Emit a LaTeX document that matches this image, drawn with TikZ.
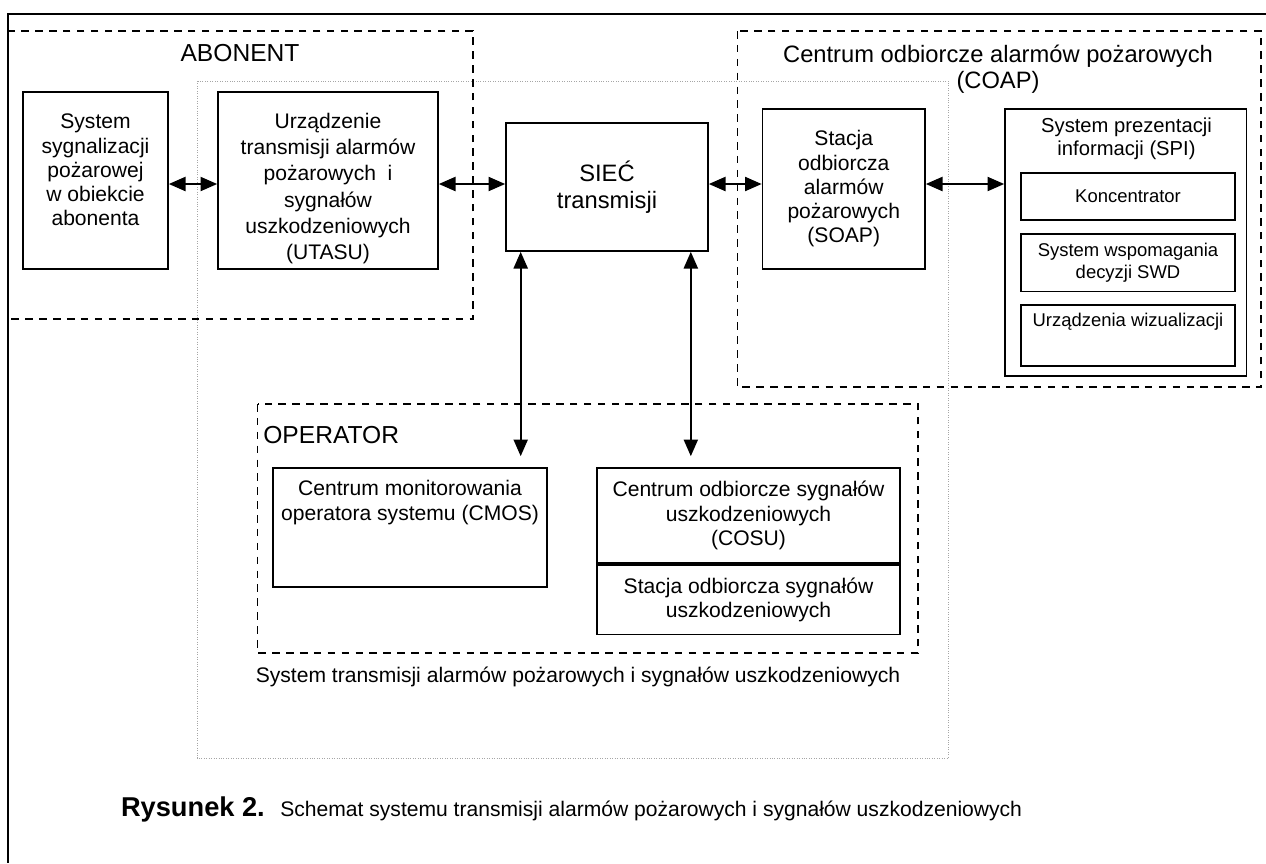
\documentclass[tikz,border=0pt]{standalone}
\usepackage{fontspec}
\setmainfont{Liberation Sans}
\usetikzlibrary{arrows.meta}
\usetikzlibrary{positioning}

\tikzset{
  blok/.style={draw, line width=0.95pt, inner sep=0pt, align=center, font=\fontsize{12}{13.8}\selectfont},
  opis/.style={align=center, inner sep=0pt, font=\fontsize{12}{13.8}\selectfont},
  maly/.style={font=\fontsize{10.5}{12.5}\selectfont},
  tytul/.style={font=\fontsize{14}{15}\selectfont},
  grupa/.style={draw, line width=0.9pt, dash pattern=on 4.3pt off 3.6pt},
  strzalka/.style={line width=1.15pt, {Triangle[length=9.5pt,width=8pt]}-{Triangle[length=9.5pt,width=8pt]}},
}

\begin{document}
\begin{tikzpicture}[x=0.02cm, y=-0.02cm]
\useasboundingbox (0,0) rectangle (1266,863);
% ramka rysunku
\draw[line width=1.1pt] (1266,14) -- (8,14) -- (8,863);

% obszary
\draw[gray!70, line width=0.4pt, densely dotted] (197,81) rectangle (948.5,758);
\draw[grupa] (8,31) rectangle (473,319);
\draw[grupa] (737.5,31) rectangle (1261,387);
\draw[grupa] (257.5,404) rectangle (918,653);

\node[opis, tytul] (abonent) at (240,53) {ABONENT};
\node[opis, tytul, font=\fontsize{13.5}{14.7}\selectfont] (coap) at (998,69) {Centrum odbiorcze alarmów pożarowych\\(COAP)};
\node[opis, tytul, anchor=west] (operator) at (263,435) {OPERATOR};

% abonent
\node[blok, minimum width=2.9cm, minimum height=3.54cm] (ssp) at (95.5,180.5) {};
\node[opis] (ssp-t) at (95.5,170) {System\\sygnalizacji\\pożarowej\\w obiekcie\\abonenta};
\node[blok, minimum width=4.4cm, minimum height=3.54cm] (utasu) at (328,180.5) {};
\node[opis, font=\fontsize{12}{15}\selectfont] (utasu-t) at (328,188.5) {Urządzenie\\transmisji alarmów\\pożarowych~ i\\sygnałów\\uszkodzeniowych\\(UTASU)};

% siec
\node[blok, minimum width=4.04cm, minimum height=2.56cm, font=\fontsize{13.5}{15.3}\selectfont] (siec) at (607,187) {SIEĆ\\transmisji};

% coap
\node[blok, minimum width=3.25cm, minimum height=3.2cm] (soap) at (843.75,189) {Stacja\\odbiorcza\\alarmów\\pożarowych\\(SOAP)};
\node[blok, minimum width=4.83cm, minimum height=5.34cm] (spi) at (1125.75,242.5) {};
\node[opis, font=\fontsize{11.5}{13}\selectfont] (spi-t) at (1126.5,138.5) {System prezentacji\\informacji (SPI)};
\node[blok, maly, minimum width=4.28cm, minimum height=0.94cm] (konc) at (1128,196.5) {Koncentrator};
\node[blok, maly, minimum width=4.28cm, minimum height=1.16cm, below=0.24cm of konc] (swd) {System wspomagania\\decyzji SWD};
\node[blok, maly, minimum width=4.28cm, minimum height=1.22cm, below=0.24cm of swd] (wiz) {};
\node[opis, maly] (wiz-t) at (1128,322) {Urządzenia wizualizacji};

% operator
\node[blok, minimum width=5.48cm, minimum height=2.38cm] (cmos) at (410,527.5) {};
\node[opis] (cmos-t) at (410,502.5) {Centrum monitorowania\\operatora systemu (CMOS)};
\node[blok, minimum width=6.06cm, minimum height=1.9cm] (cosu) at (748.5,515.5) {Centrum odbiorcze sygnałów\\uszkodzeniowych\\(COSU)};
\node[blok, minimum width=6.06cm, minimum height=1.4cm, below=0pt of cosu] (sosu) {Stacja odbiorcza sygnałów\\uszkodzeniowych};

\node[opis] (stasu) at (578,677) {System transmisji alarmów pożarowych i sygnałów uszkodzeniowych};

% polaczenia
\coordinate (poziom) at (0,184);
\draw[strzalka] (ssp.east |- poziom) -- (utasu.west |- poziom);
\draw[strzalka] (utasu.east |- poziom) -- (siec.west |- poziom);
\draw[strzalka] (siec.east |- poziom) -- (soap.west |- poziom);
\draw[strzalka] (soap.east |- poziom) -- (spi.west |- poziom);
\coordinate (k1) at ([xshift=0.31cm]siec.south west);
\coordinate (k2) at ([xshift=-0.36cm]siec.south east);
\draw[strzalka, shorten >=0.22cm] (k1) -- (k1 |- cmos.north);
\draw[strzalka, shorten >=0.22cm] (k2) -- (k2 |- cosu.north);

% podpis
\node[anchor=base west, inner sep=0pt, font=\fontsize{15.5}{18}\selectfont\bfseries] (rys) at (120.7,816.7) {Rysunek 2.};
\node[anchor=base west, inner sep=0pt, font=\fontsize{12}{14}\selectfont] (podpis) at (280,816.7) {Schemat systemu transmisji alarmów pożarowych i sygnałów uszkodzeniowych};
\end{tikzpicture}
\end{document}
